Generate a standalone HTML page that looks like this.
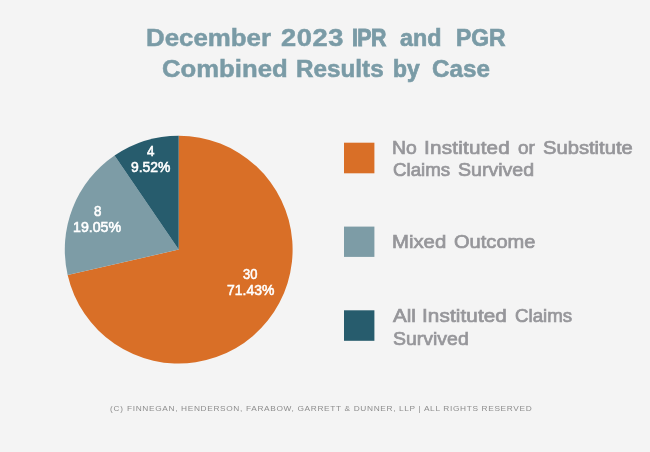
<!DOCTYPE html>
<html><head><meta charset="utf-8"><title>December 2023 IPR and PGR Combined Results by Case</title>
<style>
html,body{margin:0;padding:0;}
body{width:650px;height:452px;background:#f4f4f4;position:relative;overflow:hidden;font-family:"Liberation Sans",sans-serif;}
svg{position:absolute;left:0;top:0;}
.t{position:absolute;display:block;white-space:nowrap;line-height:1;transform-origin:0 0;}
</style></head><body>
<svg width="650" height="452" viewBox="0 0 650 452">
<path d="M178.7,249.6 L178.70,135.70 A113.9,113.9 0 1 1 67.66,274.95 Z" fill="#D96F27"/>
<path d="M178.7,249.6 L67.66,274.95 A113.9,113.9 0 0 1 114.54,155.49 Z" fill="#7D9CA6"/>
<path d="M178.7,249.6 L114.54,155.49 A113.9,113.9 0 0 1 178.70,135.70 Z" fill="#275C6D"/>
<rect x="344" y="142.7" width="30.4" height="30.6" fill="#D96F27"/>
<rect x="344" y="226.6" width="30.4" height="30.3" fill="#7D9CA6"/>
<rect x="344" y="310.3" width="30.4" height="30.5" fill="#275C6D"/>
</svg>
<span class="t" style="left:146.12px;top:26.11px;font-size:24.8px;font-weight:bold;color:#7a9ba6;-webkit-text-stroke:0.5px #7a9ba6;transform:scaleX(1.0429);">December</span>
<span class="t" style="left:281.27px;top:26.11px;font-size:24.8px;font-weight:bold;color:#7a9ba6;letter-spacing:0.497px;-webkit-text-stroke:0.5px #7a9ba6;transform:scaleX(1.1000);">2023</span>
<span class="t" style="left:351.75px;top:26.11px;font-size:24.8px;font-weight:bold;color:#7a9ba6;letter-spacing:-0.697px;-webkit-text-stroke:0.92px #7a9ba6;transform:scaleX(0.8600);">IPR</span>
<span class="t" style="left:399.83px;top:26.11px;font-size:24.8px;font-weight:bold;color:#7a9ba6;-webkit-text-stroke:0.68px #7a9ba6;transform:scaleX(0.9393);">and</span>
<span class="t" style="left:455.71px;top:26.11px;font-size:24.8px;font-weight:bold;color:#7a9ba6;-webkit-text-stroke:0.73px #7a9ba6;transform:scaleX(0.9226);">PGR</span>
<span class="t" style="left:161.72px;top:56.61px;font-size:24.8px;font-weight:bold;color:#7a9ba6;-webkit-text-stroke:0.5px #7a9ba6;transform:scaleX(1.0362);">Combined</span>
<span class="t" style="left:296.27px;top:56.61px;font-size:24.8px;font-weight:bold;color:#7a9ba6;-webkit-text-stroke:0.56px #7a9ba6;transform:scaleX(0.9787);">Results</span>
<span class="t" style="left:392.91px;top:56.61px;font-size:24.8px;font-weight:bold;color:#7a9ba6;-webkit-text-stroke:0.74px #7a9ba6;transform:scaleX(0.9216);">by</span>
<span class="t" style="left:431.67px;top:56.61px;font-size:24.8px;font-weight:bold;color:#7a9ba6;-webkit-text-stroke:0.57px #7a9ba6;transform:scaleX(0.9760);">Case</span>
<span class="t" style="left:392.33px;top:138.59px;font-size:18.8px;font-weight:normal;color:#96969a;-webkit-text-stroke:0.7px #96969a;transform:scaleX(1.0317);">No</span>
<span class="t" style="left:424.29px;top:138.59px;font-size:18.8px;font-weight:normal;color:#96969a;letter-spacing:0.200px;-webkit-text-stroke:0.7px #96969a;transform:scaleX(1.1000);">Instituted</span>
<span class="t" style="left:517.96px;top:138.59px;font-size:18.8px;font-weight:normal;color:#96969a;-webkit-text-stroke:0.7px #96969a;transform:scaleX(1.0149);">or</span>
<span class="t" style="left:543.38px;top:138.59px;font-size:18.8px;font-weight:normal;color:#96969a;-webkit-text-stroke:0.7px #96969a;transform:scaleX(1.0742);">Substitute</span>
<span class="t" style="left:392.95px;top:161.39px;font-size:18.8px;font-weight:normal;color:#96969a;-webkit-text-stroke:0.7px #96969a;transform:scaleX(0.9948);">Claims</span>
<span class="t" style="left:458.36px;top:161.39px;font-size:18.8px;font-weight:normal;color:#96969a;-webkit-text-stroke:0.7px #96969a;transform:scaleX(1.0419);">Survived</span>
<span class="t" style="left:392.40px;top:232.79px;font-size:18.8px;font-weight:normal;color:#96969a;-webkit-text-stroke:0.7px #96969a;transform:scaleX(1.0820);">Mixed</span>
<span class="t" style="left:454.27px;top:232.79px;font-size:18.8px;font-weight:normal;color:#96969a;-webkit-text-stroke:0.7px #96969a;transform:scaleX(1.0686);">Outcome</span>
<span class="t" style="left:392.98px;top:306.69px;font-size:18.8px;font-weight:normal;color:#96969a;-webkit-text-stroke:0.7px #96969a;transform:scaleX(1.0981);">All</span>
<span class="t" style="left:422.29px;top:306.69px;font-size:18.8px;font-weight:normal;color:#96969a;letter-spacing:0.099px;-webkit-text-stroke:0.7px #96969a;transform:scaleX(1.1000);">Instituted</span>
<span class="t" style="left:515.35px;top:306.69px;font-size:18.8px;font-weight:normal;color:#96969a;-webkit-text-stroke:0.7px #96969a;transform:scaleX(0.9948);">Claims</span>
<span class="t" style="left:393.06px;top:329.59px;font-size:18.8px;font-weight:normal;color:#96969a;-webkit-text-stroke:0.7px #96969a;transform:scaleX(1.0365);">Survived</span>
<span class="t" style="left:146.77px;top:144.92px;font-size:13.8px;font-weight:normal;color:#fff;-webkit-text-stroke:0.55px #fff;transform:scaleX(0.9700);">4</span>
<span class="t" style="left:130.78px;top:161.32px;font-size:13.8px;font-weight:normal;color:#fff;-webkit-text-stroke:0.55px #fff;transform:scaleX(1.0075);">9.52%</span>
<span class="t" style="left:93.67px;top:204.62px;font-size:13.8px;font-weight:normal;color:#fff;-webkit-text-stroke:0.55px #fff;transform:scaleX(0.9700);">8</span>
<span class="t" style="left:73.05px;top:221.12px;font-size:13.8px;font-weight:normal;color:#fff;-webkit-text-stroke:0.55px #fff;transform:scaleX(1.0287);">19.05%</span>
<span class="t" style="left:242.86px;top:267.52px;font-size:13.8px;font-weight:normal;color:#fff;-webkit-text-stroke:0.55px #fff;transform:scaleX(0.9369);">30</span>
<span class="t" style="left:226.68px;top:284.22px;font-size:13.8px;font-weight:normal;color:#fff;-webkit-text-stroke:0.55px #fff;transform:scaleX(1.0111);">71.43%</span>
<span class="t" style="left:110.20px;top:405.14px;font-size:7.4px;font-weight:normal;color:#8d8d8d;letter-spacing:0.737px;transform:scaleX(1.1000);">(C)</span>
<span class="t" style="left:126.80px;top:405.88px;font-size:6.4px;font-weight:normal;color:#8d8d8d;letter-spacing:0.501px;transform:scaleX(1.3000);">FINNEGAN, HENDERSON, FARABOW, GARRETT &amp; DUNNER, LLP | ALL RIGHTS RESERVED</span>
</body></html>
